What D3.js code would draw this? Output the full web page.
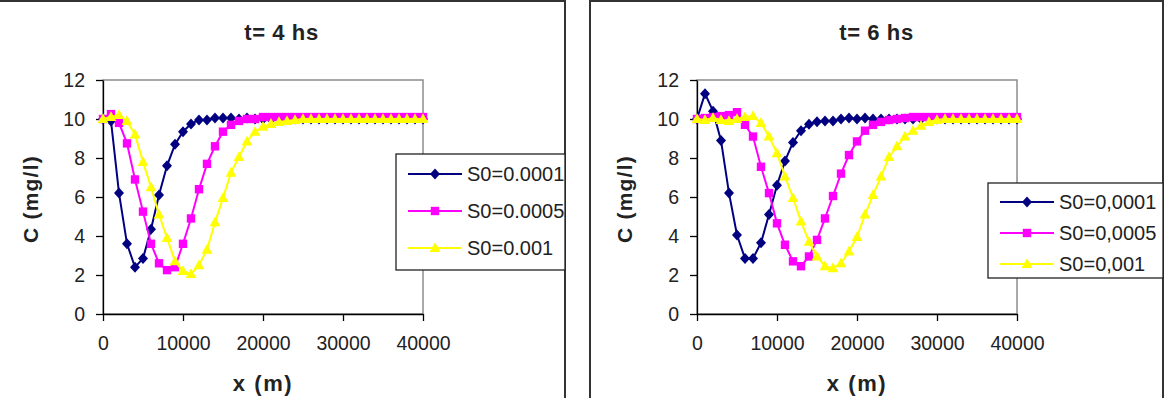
<!DOCTYPE html>
<html>
<head>
<meta charset="utf-8">
<script src="https://cdn.jsdelivr.net/npm/d3@7/dist/d3.min.js"></script>
<style>
  body { margin: 0; background: #fff; }
  svg { display: block; }
</style>
</head>
<body>
<script>

// distance along the channel (m), one point every 1000 m
var xMeters = [0, 1000, 2000, 3000, 4000, 5000, 6000, 7000, 8000, 9000,
  10000, 11000, 12000, 13000, 14000, 15000, 16000, 17000, 18000, 19000,
  20000, 21000, 22000, 23000, 24000, 25000, 26000, 27000, 28000, 29000,
  30000, 31000, 32000, 33000, 34000, 35000, 36000, 37000, 38000, 39000, 40000];

var xTicks = [0, 10000, 20000, 30000, 40000];
var yTicks = [0, 2, 4, 6, 8, 10, 12];

// t = 4 hs, concentration (mg/l)
var c4_s0001 = [10, 9.9, 6.2, 3.6, 2.4, 2.85, 4.35, 6.1, 7.6, 8.7,
  9.35, 9.75, 9.95, 9.95, 10.05, 10.05, 10.05, 10, 10.05, 10,
  10, 10, 10, 10, 10, 10, 10, 10, 10, 10,
  10, 10, 10, 10, 10, 10, 10, 10, 10, 10, 10];
var c4_s0005 = [10, 10.25, 9.8, 8.75, 6.9, 5.25, 3.6, 2.6, 2.25, 2.4,
  3.6, 4.9, 6.4, 7.7, 8.6, 9.35, 9.7, 9.9, 10, 10,
  10.1, 10.1, 10.1, 10.1, 10.1, 10.1, 10.1, 10.1, 10.1, 10.1,
  10.1, 10.1, 10.1, 10.1, 10.1, 10.1, 10.1, 10.1, 10.1, 10.1, 10.1];
var c4_s001 = [10, 10.1, 10.2, 9.9, 9.2, 7.8, 6.5, 5.1, 3.9, 2.7,
  2.2, 2.05, 2.5, 3.3, 4.7, 5.95, 7.25, 8.05, 8.85, 9.35,
  9.6, 9.75, 9.85, 9.9, 9.95, 10, 10, 10, 10, 10,
  10, 10, 10, 10, 10, 10, 10, 10, 10, 10, 10];

// t = 6 hs, concentration (mg/l)
var c6_s0001 = [10, 11.3, 10.4, 8.9, 6.2, 4.05, 2.85, 2.85, 3.65, 5.1,
  6.6, 7.85, 8.8, 9.4, 9.73, 9.86, 9.9, 9.9, 10, 10.05,
  10, 10.05, 10, 10, 10, 10, 10, 10, 10, 10,
  10, 10, 10, 10, 10, 10, 10, 10, 10, 10, 10];
var c6_s0005 = [10, 10.05, 10.1, 10.15, 10.2, 10.35, 9.7, 9.1, 7.55, 6.2,
  4.65, 3.55, 2.7, 2.45, 2.95, 3.8, 4.9, 6.05, 7.2, 8.15,
  8.85, 9.4, 9.7, 9.85, 9.95, 10, 10.05, 10.1, 10.1, 10.1,
  10.1, 10.1, 10.1, 10.1, 10.1, 10.1, 10.1, 10.1, 10.1, 10.1, 10.1];
var c6_s001 = [10, 9.95, 10.05, 9.95, 9.9, 10, 10.1, 10.15, 9.8, 9.1,
  8.25, 7.05, 5.95, 4.75, 3.7, 2.95, 2.45, 2.35, 2.6, 3.2,
  3.95, 5.1, 6.1, 7.05, 8.05, 8.6, 9.1, 9.4, 9.65, 9.85,
  9.95, 10, 10, 10, 10, 10, 10, 10, 10, 10, 10];

var labels4 = ["S0=0.0001", "S0=0.0005", "S0=0.001"];
var labels6 = ["S0=0,0001", "S0=0,0005", "S0=0,001"];

var seriesColors = ["#000080", "#ff00ff", "#ffff00"];
var seriesShapes = ["diamond", "square", "triangle"];

var font = "'Liberation Sans', Arial, sans-serif";

var svg = d3.select("body").append("svg")
  .attr("width", 1165)
  .attr("height", 398);

svg.append("rect").attr("x", 0).attr("y", 0).attr("width", 1165)
  .attr("height", 398).style("fill", "#fff");

var marker_path = function(shape) {
  if (shape == "diamond") return "M0,-5.5L5,0L0,5.5L-5,0Z";
  if (shape == "square") return "M-4.2,-4.2h8.4v8.4h-8.4Z";
  return "M0,-5.8L5.4,4L-5.4,4Z";
};

var draw_panel = function(par) {

  var g = svg.append("g");

  // outer frame of the chart
  g.append("rect")
    .attr("x", par.frame_x).attr("y", 1)
    .attr("width", par.frame_w).attr("height", 440)
    .style("fill", "none").style("stroke", "#333").style("stroke-width", 2);

  var x = d3.scaleLinear().domain([0, 40000]).range([par.left, par.left + 320]);
  var y = d3.scaleLinear().domain([0, 12]).range([314, 80]);

  // grey plot area border
  g.append("rect")
    .attr("x", x(0)).attr("y", y(12))
    .attr("width", x(40000) - x(0)).attr("height", y(0) - y(12))
    .style("fill", "none").style("stroke", "#8c8c8c").style("stroke-width", 1.5);

  var xAxis = g.append("g")
    .attr("transform", "translate(0," + y(0) + ")")
    .call(d3.axisBottom(x).tickValues(xTicks).tickSize(7).tickSizeOuter(0)
      .tickPadding(15).tickFormat(d3.format("d")));

  var yAxis = g.append("g")
    .attr("transform", "translate(" + x(0) + ",0)")
    .call(d3.axisLeft(y).tickValues(yTicks).tickSize(7).tickSizeOuter(0)
      .tickPadding(11));

  [xAxis, yAxis].forEach(function(a) {
    a.attr("font-family", font).attr("font-size", 19.5);
    a.selectAll("path, line").style("stroke", "#000").style("stroke-width", 1.3);
    a.selectAll("text").style("fill", "#222");
  });

  // series, navy first so yellow ends on top
  par.series.forEach(function(vals, i) {
    var pts = xMeters.map(function(d, j) { return [d, vals[j]]; });
    g.append("path")
      .datum(pts)
      .attr("d", d3.line().x(function(d) { return x(d[0]); }).y(function(d) { return y(d[1]); }))
      .style("fill", "none").style("stroke", seriesColors[i]).style("stroke-width", 2);
    g.selectAll(".mk" + i)
      .data(pts).enter().append("path")
      .attr("class", "mk" + i)
      .attr("transform", function(d) { return "translate(" + x(d[0]) + "," + y(d[1]) + ")"; })
      .attr("d", marker_path(seriesShapes[i]))
      .style("fill", seriesColors[i]);
  });

  // titles
  g.append("text").text(par.title)
    .attr("x", par.frame_x + par.frame_w / 2).attr("y", 40)
    .attr("text-anchor", "middle").attr("font-family", font)
    .attr("font-size", 22).attr("font-weight", "bold")
    .style("letter-spacing", "0.6px").style("fill", "#222");

  g.append("text").text("x (m)")
    .attr("x", (x(0) + x(40000)) / 2).attr("y", 391)
    .attr("text-anchor", "middle").attr("font-family", font)
    .attr("font-size", 22).attr("font-weight", "bold")
    .style("letter-spacing", "1.6px").style("fill", "#222");

  g.append("text").text("C (mg/l)")
    .attr("transform", "translate(" + (x(0) - 72) + "," + ((y(0) + y(12)) / 2 + 2) + ") rotate(-90)")
    .attr("dy", "0.35em")
    .attr("text-anchor", "middle").attr("font-family", font)
    .attr("font-size", 21).attr("font-weight", "bold")
    .style("letter-spacing", "1.2px").style("fill", "#222");

  // legend box
  var lg = par.legend;
  g.append("rect")
    .attr("x", lg.x).attr("y", lg.y).attr("width", lg.w).attr("height", lg.h)
    .style("fill", "#fff").style("stroke", "#222").style("stroke-width", 1.3);

  par.labels.forEach(function(lab, i) {
    var ry = lg.rows[i];
    g.append("line")
      .attr("x1", lg.x + 12).attr("x2", lg.x + 66).attr("y1", ry).attr("y2", ry)
      .style("stroke", seriesColors[i]).style("stroke-width", 2);
    g.append("path")
      .attr("transform", "translate(" + (lg.x + 39) + "," + ry + ")")
      .attr("d", marker_path(seriesShapes[i]))
      .style("fill", seriesColors[i]);
    g.append("text").text(lab)
      .attr("x", lg.x + 71).attr("y", ry).attr("dy", "0.35em")
      .attr("font-family", font).attr("font-size", 20).style("fill", "#222");
  });
};

draw_panel({
  frame_x: -2, frame_w: 567, left: 103, title: "t= 4 hs",
  series: [c4_s0001, c4_s0005, c4_s001], labels: labels4,
  legend: {x: 396, y: 154, w: 169, h: 116, rows: [174, 211, 248]}
});

draw_panel({
  frame_x: 590, frame_w: 573, left: 697, title: "t= 6 hs",
  series: [c6_s0001, c6_s0005, c6_s001], labels: labels6,
  legend: {x: 988, y: 183, w: 175, h: 95, rows: [202, 233, 264]}
});

</script>
</body>
</html>
